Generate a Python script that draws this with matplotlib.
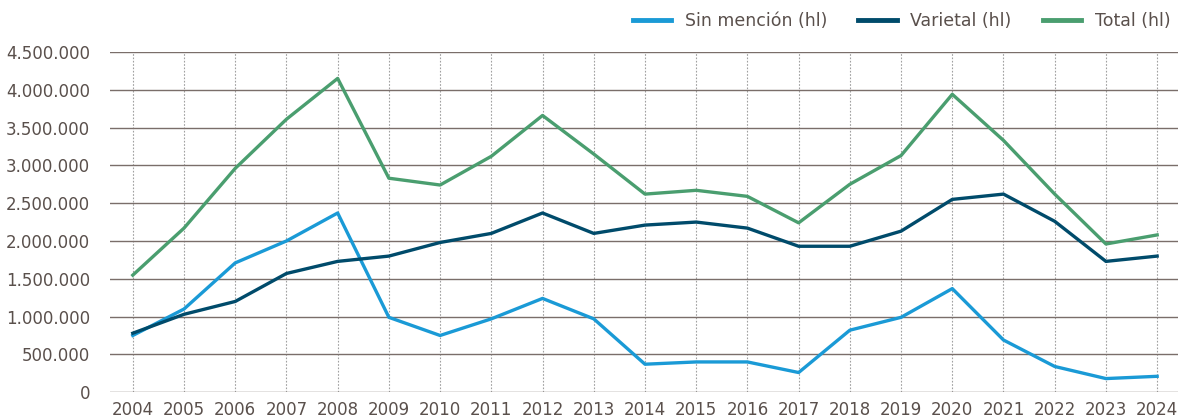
import matplotlib
matplotlib.use('Agg')
from matplotlib import pyplot as plt
from matplotlib.ticker import FuncFormatter

years = list(range(2004, 2025))
sin_mencion = [750000, 1100000, 1710000, 2000000, 2370000, 990000, 750000, 970000, 1240000, 970000,
               370000, 400000, 400000, 260000, 820000, 990000, 1370000, 690000, 340000, 180000, 210000]
varietal = [780000, 1030000, 1200000, 1570000, 1730000, 1800000, 1980000, 2100000, 2370000, 2100000,
            2210000, 2250000, 2170000, 1930000, 1930000, 2130000, 2550000, 2620000, 2260000, 1730000, 1800000]
total = [1548000, 2170000, 2960000, 3610000, 4150000, 2830000, 2740000, 3120000, 3660000, 3150000,
         2620000, 2670000, 2590000, 2240000, 2750000, 3130000, 3940000, 3330000, 2620000, 1960000, 2080000]

text_color = '#5a504c'
grid_color = '#7a6e6a'

plt.rcParams['font.family'] = ['DejaVu Sans']
fig = plt.figure(figsize=(11.8, 4.19), dpi=100)
ax = fig.add_axes([0.093, 0.064, 0.905, 0.812])

ax.plot(years, sin_mencion, color='#1a9ad6', lw=2.4, label='Sin mención (hl)')
ax.plot(years, varietal, color='#004b6b', lw=2.4, label='Varietal (hl)')
ax.plot(years, total, color='#4a9e6f', lw=2.4, label='Total (hl)')

ax.set_xlim(2003.55, 2024.4)
ax.set_ylim(0, 4500000)
ax.set_xticks(years)
ax.set_yticks(range(0, 4500001, 500000))
ax.yaxis.set_major_formatter(FuncFormatter(lambda v, p: f'{int(v):,}'.replace(',', '.')))

ax.grid(axis='y', color=grid_color, lw=1.0, ls='-')
ax.grid(axis='x', color='#a0a0a0', lw=0.8, ls=(0, (1.5, 1.5)))
ax.set_axisbelow(True)
for s in ax.spines.values():
    s.set_visible(False)
ax.tick_params(length=0, labelsize=12, colors=text_color, pad=6)
ax.tick_params(axis='y', pad=14)

leg = ax.legend(loc='lower right', bbox_to_anchor=(1.0, 1.045), ncol=3, frameon=False,
                fontsize=12.5, handlelength=2.2, columnspacing=1.8, borderaxespad=0)
for t in leg.get_texts():
    t.set_color(text_color)
for h in leg.legend_handles:
    h.set_linewidth(3.5)

fig.savefig('out.png', dpi=100)
